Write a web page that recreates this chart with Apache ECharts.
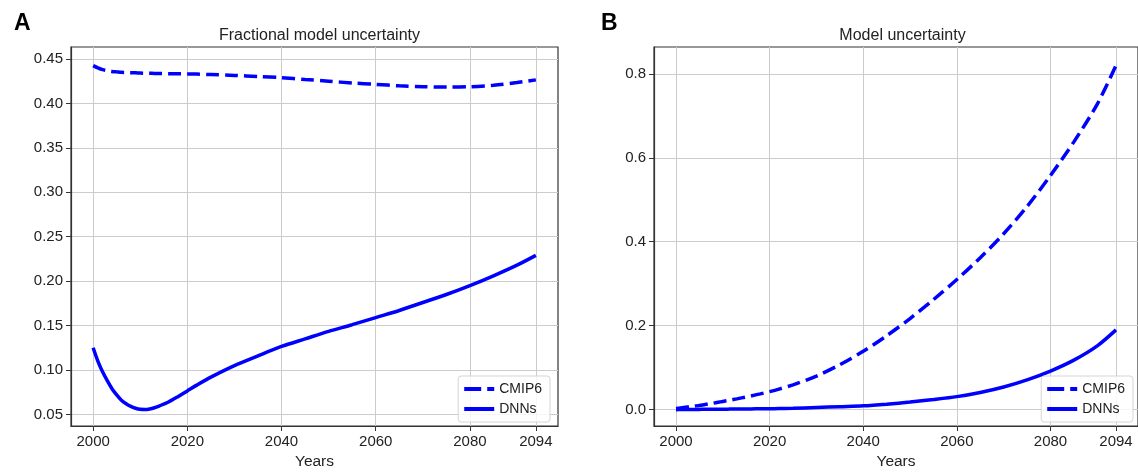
<!DOCTYPE html>
<html>
<head>
<meta charset="utf-8">
<script src="https://cdn.jsdelivr.net/npm/echarts@6/dist/echarts.min.js"></script>
<style>
  html, body { margin: 0; padding: 0; background: #fff; }
  #chart { width: 1138px; height: 475px; }
</style>
</head>
<body>
<div id="chart"></div>
<script>
// years sampled along the curves
const years = [2000, 2001, 2002, 2003, 2004, 2005, 2006, 2007, 2008, 2009, 2010, 2011, 2012, 2013, 2014,
  2016, 2018, 2020, 2022, 2025, 2030, 2035, 2040, 2045, 2050, 2055, 2060, 2065, 2070, 2075, 2080, 2085, 2090, 2094]

// panel A: fractional model uncertainty
const fracCmip6 = [0.4425, 0.440, 0.438, 0.437, 0.436, 0.4355, 0.435, 0.4348, 0.4346, 0.4344, 0.4342, 0.434, 0.4339, 0.4338, 0.4337,
  0.4335, 0.4333, 0.4332, 0.433, 0.4325, 0.4315, 0.4303, 0.429, 0.427, 0.425, 0.423, 0.4215, 0.4198, 0.4188, 0.4184, 0.4188, 0.4205, 0.4235, 0.4265]
const fracDnns = [0.125, 0.110, 0.098, 0.088, 0.079, 0.072, 0.066, 0.062, 0.059, 0.057, 0.0558, 0.0556, 0.0562, 0.0575, 0.0595,
  0.064, 0.070, 0.0765, 0.083, 0.092, 0.105, 0.116, 0.1265, 0.135, 0.1435, 0.151, 0.159, 0.167, 0.176, 0.185, 0.195, 0.206, 0.218, 0.229]

// panel B: model uncertainty
const absCmip6 = [0.003, 0.004, 0.0055, 0.007, 0.0085, 0.010, 0.0118, 0.0136, 0.0155, 0.0175, 0.0195, 0.0215, 0.0236, 0.0257, 0.028,
  0.0325, 0.0375, 0.043, 0.049, 0.059, 0.080, 0.107, 0.139, 0.176, 0.217, 0.262, 0.310, 0.362, 0.419, 0.484, 0.558, 0.638, 0.728, 0.820]
const absDnns = [0.0, 0.0002, 0.0003, 0.0004, 0.0005, 0.0006, 0.0007, 0.0008, 0.0009, 0.001, 0.0011, 0.0012, 0.0013, 0.0014, 0.0015,
  0.0017, 0.0019, 0.002, 0.0025, 0.003, 0.005, 0.007, 0.009, 0.013, 0.018, 0.024, 0.031, 0.041, 0.054, 0.071, 0.092, 0.118, 0.152, 0.190]

const xTicks = [2000, 2020, 2040, 2060, 2080, 2094]
const fracTicks = [0.05, 0.10, 0.15, 0.20, 0.25, 0.30, 0.35, 0.40, 0.45]
const absTicks = [0.0, 0.2, 0.4, 0.6, 0.8]

const FONT = "Liberation Sans, Arial, sans-serif"
const BLUE = "#0000ff"
// legend handles: a dashed and a solid bar
const DASH_ICON = "path://M0,0H17V4H0Z M23,0H30V4H23Z"
const SOLID_ICON = "path://M0,0H30V4H0Z"

function pairs(values) {
  return years.map((y, i) => [y, values[i]])
}

function xAxisFor(gridIndex) {
  return {
    type: "value",
    gridIndex,
    min: 1995.3,
    max: 2098.7,
    name: "Years",
    nameLocation: "middle",
    nameGap: 28,
    nameTextStyle: { fontFamily: FONT, fontSize: 15.5, color: "#222" },
    axisLine: { show: true, onZero: false, lineStyle: { color: "#333", width: 1.2 } },
    axisTick: { show: true, length: 5, customValues: xTicks, lineStyle: { color: "#333", width: 1 } },
    axisLabel: { customValues: xTicks, margin: 8, fontFamily: FONT, fontSize: 15, color: "#222", formatter: v => String(v) },
    splitLine: { show: true, lineStyle: { color: "#cccccc", width: 1 } },
  }
}

function yAxisFor(gridIndex, min, max, ticks, digits) {
  return {
    type: "value",
    gridIndex,
    min,
    max,
    axisLine: { show: true, onZero: false, lineStyle: { color: "#333", width: 1.2 } },
    axisTick: { show: true, length: 5, customValues: ticks, lineStyle: { color: "#333", width: 1 } },
    axisLabel: { customValues: ticks, margin: 8, fontFamily: FONT, fontSize: 15, color: "#222", formatter: v => Number(v).toFixed(digits) },
    splitLine: { show: true, lineStyle: { color: "#cccccc", width: 1 } },
  }
}

function lineSeries(name, values, axisIndex, dashed) {
  return {
    name,
    type: "line",
    xAxisIndex: axisIndex,
    yAxisIndex: axisIndex,
    data: pairs(values),
    symbol: "none",
    smooth: 0.3,
    lineStyle: { color: BLUE, width: 3.5, type: dashed ? [13, 6] : "solid", cap: "butt" },
    itemStyle: { color: BLUE },
  }
}

function legendFor(right) {
  return {
    data: [
      { name: "CMIP6", icon: DASH_ICON },
      { name: "DNNs", icon: SOLID_ICON },
    ],
    orient: "vertical",
    right,
    bottom: 53,
    itemWidth: 30,
    itemHeight: 14,
    itemGap: 6,
    padding: [6, 8, 6, 6],
    backgroundColor: "rgba(255,255,255,0.8)",
    borderColor: "#d5d5d5",
    borderWidth: 1,
    borderRadius: 3,
    selectedMode: false,
    itemStyle: { color: BLUE, borderWidth: 0 },
    textStyle: { fontFamily: FONT, fontSize: 14, color: "#222" },
  }
}

const chart = echarts.init(document.getElementById("chart"))
chart.setOption({
  animation: false,
  backgroundColor: "#fff",
  title: [
    { text: "A", left: 9, top: 7, textStyle: { fontFamily: FONT, fontSize: 23, fontWeight: "bold", color: "#000" } },
    { text: "B", left: 596, top: 7, textStyle: { fontFamily: FONT, fontSize: 23, fontWeight: "bold", color: "#000" } },
    { text: "Fractional model uncertainty", left: 314.5, top: 23, textAlign: "center", textStyle: { fontFamily: FONT, fontSize: 16, fontWeight: "normal", color: "#222" } },
    { text: "Model uncertainty", left: 897.5, top: 23, textAlign: "center", textStyle: { fontFamily: FONT, fontSize: 16, fontWeight: "normal", color: "#222" } },
  ],
  grid: [
    { left: 71, right: 580, top: 47, bottom: 49, show: true, borderColor: "#333", borderWidth: 1.2, backgroundColor: "transparent" },
    { left: 654, right: -3, top: 47, bottom: 49, show: true, borderColor: "#333", borderWidth: 1.2, backgroundColor: "transparent" },
  ],
  xAxis: [xAxisFor(0), xAxisFor(1)],
  yAxis: [
    yAxisFor(0, 0.037, 0.4635, fracTicks, 2),
    yAxisFor(1, -0.039, 0.864, absTicks, 1),
  ],
  legend: [legendFor(588), legendFor(5)],
  series: [
    lineSeries("CMIP6", fracCmip6, 0, true),
    lineSeries("DNNs", fracDnns, 0, false),
    lineSeries("CMIP6", absCmip6, 1, true),
    lineSeries("DNNs", absDnns, 1, false),
  ],
})
</script>
</body>
</html>
